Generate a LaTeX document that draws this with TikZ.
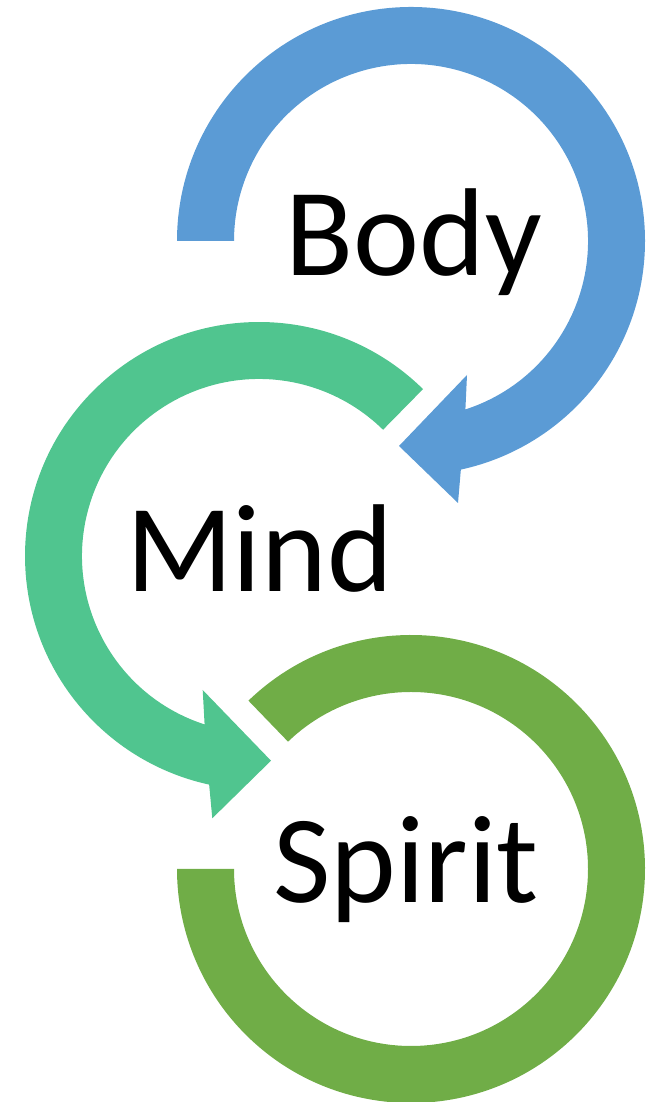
\documentclass[tikz,border=0pt]{standalone}
\usepackage{fontspec}
\setmainfont{Carlito}
\usetikzlibrary{calc}
\definecolor{cblue}{HTML}{5B9BD5}
\definecolor{cteal}{HTML}{50C58F}
\definecolor{cgreen}{HTML}{70AD47}
\begin{document}
\begin{tikzpicture}[x=1pt,y=1pt,
  lbl/.style={inner sep=0pt, anchor=base, font=\fontsize{125}{150}\selectfont}]
\useasboundingbox (0,0) rectangle (651,1102);
\coordinate (cb) at (411,861);
\coordinate (cm) at (259,546);
\coordinate (cs) at (411,233);
% blue arrow
\fill[cblue] ($(cb)+(180:234)$) arc[start angle=180, end angle=-77.7, radius=234]
  -- (458,599) -- (399,656) -- (467,727)
  -- ($(cb)+(-72.1:177)$) arc[start angle=-72.1, end angle=180, radius=177] -- cycle;
% teal arrow
\fill[cteal] ($(cm)+(45.5:234)$) arc[start angle=45.5, end angle=257.7, radius=234]
  -- (212.3,283.7) -- (271,341.3) -- (202.7,412)
  -- ($(cm)+(252.1:177)$) arc[start angle=252.1, end angle=45.5, radius=177] -- cycle;
% green arc
\fill[cgreen] ($(cs)+(134:234)$) arc[start angle=134, end angle=-180, radius=234]
  -- ($(cs)+(-180:177)$) arc[start angle=-180, end angle=134, radius=177] -- cycle;
% labels
\node[lbl] (body) at (414,826) {Body};
\node[lbl] (mind) at (259.5,510.3) {Mind};
\node[lbl] (spirit) at (406,199) {Spirit};
\end{tikzpicture}
\end{document}
